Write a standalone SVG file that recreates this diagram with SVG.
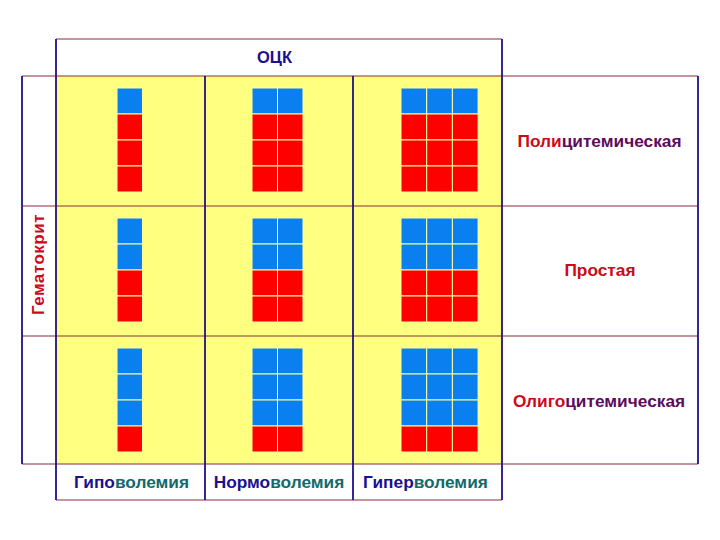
<svg xmlns="http://www.w3.org/2000/svg" width="720" height="540" viewBox="0 0 720 540">
<style>
.hl{stroke:#8e2a3a;stroke-width:1.2;fill:none}
.vl{stroke:#1c1088;stroke-width:1.8;fill:none}
.b{fill:#0a80f0;stroke:#ffff9a;stroke-width:1}
.r{fill:#ff0000;stroke:#ffff9a;stroke-width:1}
text{font-family:"Liberation Sans",Arial,sans-serif;font-weight:bold}
.lab{font-size:17.3px;text-anchor:middle}
.red{fill:#cc0a1a}
.pur{fill:#5e0a5e}
.nav{fill:#1a1090}
.teal{fill:#126a6a}
</style>
<rect width="720" height="540" fill="#ffffff"/>
<rect x="56" y="76" width="446" height="388" fill="#ffff80"/>
<g id="connectors">
<line class="hl" x1="56" y1="39" x2="502" y2="39"/>
<line class="hl" x1="22" y1="76" x2="698" y2="76"/>
<line class="hl" x1="22" y1="206" x2="698" y2="206"/>
<line class="hl" x1="22" y1="336" x2="698" y2="336"/>
<line class="hl" x1="22" y1="464" x2="698" y2="464"/>
<line class="hl" x1="56" y1="500" x2="502" y2="500"/>
<line class="vl" x1="22" y1="76" x2="22" y2="464"/>
<line class="vl" x1="698" y1="76" x2="698" y2="464"/>
<line class="vl" x1="56" y1="39" x2="56" y2="500"/>
<line class="vl" x1="205" y1="76" x2="205" y2="500"/>
<line class="vl" x1="353" y1="76" x2="353" y2="500"/>
<line class="vl" x1="502" y1="39" x2="502" y2="500"/>
</g>
<g id="header"><text x="274.5" y="63" font-size="16.5" text-anchor="middle" class="nav">ОЦК</text></g>
<g id="axis-y"><text transform="translate(44,264.5) rotate(-90)" font-size="17" letter-spacing="0.5" text-anchor="middle" class="red">Гематокрит</text></g>
<g id="row1-label"><text class="lab" x="599.5" y="147"><tspan class="red">Поли</tspan><tspan class="pur">цитемическая</tspan></text></g>
<g id="row2-label"><text class="lab red" x="600" y="276">Простая</text></g>
<g id="row3-label"><text class="lab" x="599" y="407"><tspan class="red">Олиго</tspan><tspan class="pur">цитемическая</tspan></text></g>
<g id="col1-label"><text class="lab" x="131.5" y="488"><tspan class="nav">Гипо</tspan><tspan class="teal">волемия</tspan></text></g>
<g id="col2-label"><text class="lab" x="279" y="488"><tspan class="nav">Нормо</tspan><tspan class="teal">волемия</tspan></text></g>
<g id="col3-label"><text class="lab" x="425.5" y="488"><tspan class="nav">Гипер</tspan><tspan class="teal">волемия</tspan></text></g>
<!-- Row 1: 1 blue, 3 red -->
<g id="cell-1-1">
<rect class="b" x="117" y="88" width="25.5" height="26"/>
<rect class="r" x="117" y="114" width="25.5" height="26"/>
<rect class="r" x="117" y="140" width="25.5" height="26"/>
<rect class="r" x="117" y="166" width="25.5" height="26"/>
</g>
<g id="cell-1-2">
<rect class="b" x="252" y="88" width="25.5" height="26"/><rect class="b" x="277.5" y="88" width="25.5" height="26"/>
<rect class="r" x="252" y="114" width="25.5" height="26"/><rect class="r" x="277.5" y="114" width="25.5" height="26"/>
<rect class="r" x="252" y="140" width="25.5" height="26"/><rect class="r" x="277.5" y="140" width="25.5" height="26"/>
<rect class="r" x="252" y="166" width="25.5" height="26"/><rect class="r" x="277.5" y="166" width="25.5" height="26"/>
</g>
<g id="cell-1-3">
<rect class="b" x="401" y="88" width="25.7" height="26"/><rect class="b" x="426.7" y="88" width="25.7" height="26"/><rect class="b" x="452.4" y="88" width="25.7" height="26"/>
<rect class="r" x="401" y="114" width="25.7" height="26"/><rect class="r" x="426.7" y="114" width="25.7" height="26"/><rect class="r" x="452.4" y="114" width="25.7" height="26"/>
<rect class="r" x="401" y="140" width="25.7" height="26"/><rect class="r" x="426.7" y="140" width="25.7" height="26"/><rect class="r" x="452.4" y="140" width="25.7" height="26"/>
<rect class="r" x="401" y="166" width="25.7" height="26"/><rect class="r" x="426.7" y="166" width="25.7" height="26"/><rect class="r" x="452.4" y="166" width="25.7" height="26"/>
</g>
<!-- Row 2: 2 blue, 2 red -->
<g id="cell-2-1">
<rect class="b" x="117" y="218" width="25.5" height="26"/>
<rect class="b" x="117" y="244" width="25.5" height="26"/>
<rect class="r" x="117" y="270" width="25.5" height="26"/>
<rect class="r" x="117" y="296" width="25.5" height="26"/>
</g>
<g id="cell-2-2">
<rect class="b" x="252" y="218" width="25.5" height="26"/><rect class="b" x="277.5" y="218" width="25.5" height="26"/>
<rect class="b" x="252" y="244" width="25.5" height="26"/><rect class="b" x="277.5" y="244" width="25.5" height="26"/>
<rect class="r" x="252" y="270" width="25.5" height="26"/><rect class="r" x="277.5" y="270" width="25.5" height="26"/>
<rect class="r" x="252" y="296" width="25.5" height="26"/><rect class="r" x="277.5" y="296" width="25.5" height="26"/>
</g>
<g id="cell-2-3">
<rect class="b" x="401" y="218" width="25.7" height="26"/><rect class="b" x="426.7" y="218" width="25.7" height="26"/><rect class="b" x="452.4" y="218" width="25.7" height="26"/>
<rect class="b" x="401" y="244" width="25.7" height="26"/><rect class="b" x="426.7" y="244" width="25.7" height="26"/><rect class="b" x="452.4" y="244" width="25.7" height="26"/>
<rect class="r" x="401" y="270" width="25.7" height="26"/><rect class="r" x="426.7" y="270" width="25.7" height="26"/><rect class="r" x="452.4" y="270" width="25.7" height="26"/>
<rect class="r" x="401" y="296" width="25.7" height="26"/><rect class="r" x="426.7" y="296" width="25.7" height="26"/><rect class="r" x="452.4" y="296" width="25.7" height="26"/>
</g>
<!-- Row 3: 3 blue, 1 red -->
<g id="cell-3-1">
<rect class="b" x="117" y="348" width="25.5" height="26"/>
<rect class="b" x="117" y="374" width="25.5" height="26"/>
<rect class="b" x="117" y="400" width="25.5" height="26"/>
<rect class="r" x="117" y="426" width="25.5" height="26"/>
</g>
<g id="cell-3-2">
<rect class="b" x="252" y="348" width="25.5" height="26"/><rect class="b" x="277.5" y="348" width="25.5" height="26"/>
<rect class="b" x="252" y="374" width="25.5" height="26"/><rect class="b" x="277.5" y="374" width="25.5" height="26"/>
<rect class="b" x="252" y="400" width="25.5" height="26"/><rect class="b" x="277.5" y="400" width="25.5" height="26"/>
<rect class="r" x="252" y="426" width="25.5" height="26"/><rect class="r" x="277.5" y="426" width="25.5" height="26"/>
</g>
<g id="cell-3-3">
<rect class="b" x="401" y="348" width="25.7" height="26"/><rect class="b" x="426.7" y="348" width="25.7" height="26"/><rect class="b" x="452.4" y="348" width="25.7" height="26"/>
<rect class="b" x="401" y="374" width="25.7" height="26"/><rect class="b" x="426.7" y="374" width="25.7" height="26"/><rect class="b" x="452.4" y="374" width="25.7" height="26"/>
<rect class="b" x="401" y="400" width="25.7" height="26"/><rect class="b" x="426.7" y="400" width="25.7" height="26"/><rect class="b" x="452.4" y="400" width="25.7" height="26"/>
<rect class="r" x="401" y="426" width="25.7" height="26"/><rect class="r" x="426.7" y="426" width="25.7" height="26"/><rect class="r" x="452.4" y="426" width="25.7" height="26"/>
</g>
</svg>
